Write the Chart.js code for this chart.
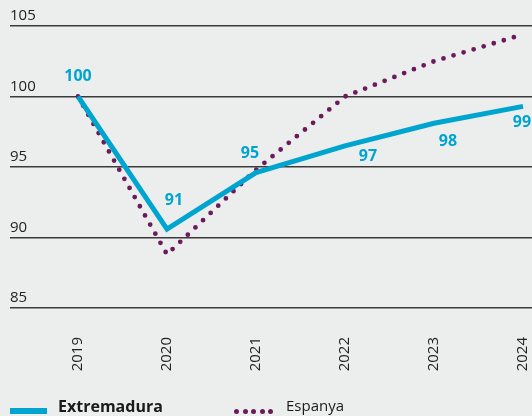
<!DOCTYPE html>
<html>
<head>
<meta charset="utf-8">
<script src="https://cdn.jsdelivr.net/npm/chart.js@4/dist/chart.umd.min.js"></script>
<style>
  body { margin: 0; background: #eceeed; }
  #wrap { position: relative; width: 532px; height: 416px; overflow: hidden; background: #eceeed; font-family: "Open Sans", sans-serif; }
  #chart { position: absolute; left: 0; top: 0; }
  .leg { position: absolute; top: 395px; font-size: 15px; color: #1a1a1a; white-space: nowrap; }
  .line { position: absolute; left: 10px; top: 408px; width: 37px; height: 6px; background: #00a5cf; }
  .dot { position: absolute; top: 409px; width: 5px; height: 5px; border-radius: 50%; background: #6b1a5c; }
</style>
</head>
<body>
<div id="wrap">
  <canvas id="chart" width="532" height="416"></canvas>
  <div class="line"></div>
  <div class="leg" style="left:58px;font-weight:bold;font-size:16px;top:395px">Extremadura</div>
  <div class="dot" style="left:234px"></div>
  <div class="dot" style="left:242.5px"></div>
  <div class="dot" style="left:251px"></div>
  <div class="dot" style="left:259.5px"></div>
  <div class="dot" style="left:268px"></div>
  <div class="leg" style="left:286px">Espanya</div>
</div>
<script>
var years = [2019, 2020, 2021, 2022, 2023, 2024];
var extremadura = [100, 90.6, 94.6, 96.5, 98.1, 99.3];
var espanya = [100, 88.8, 94.8, 100.0, 102.5, 104.4];
var extLabels = ['100', '91', '95', '97', '98', '99'];
var yTicks = [85, 90, 95, 100, 105];

var blue = '#00a5cf';
var purple = '#6b1a5c';

// offsets of the value labels from their points
var labelOffsets = [[0, -20], [7, -29], [-6, -19], [23, 11], [14, 18], [-1, 16]];

var valueLabels = {
    id: 'valueLabels',
    afterDatasetsDraw: function (chart) {
        var ctx = chart.ctx;
        var meta = chart.getDatasetMeta(0);
        ctx.save();
        ctx.font = 'bold 16px "Open Sans", sans-serif';
        ctx.fillStyle = blue;
        ctx.textAlign = 'center';
        ctx.textBaseline = 'middle';
        meta.data.forEach(function (pt, i) {
            ctx.fillText(extLabels[i], pt.x + labelOffsets[i][0], pt.y + labelOffsets[i][1]);
        });
        ctx.restore();
    }
};

var ctx = document.getElementById('chart').getContext('2d');
var myChart = new Chart(ctx, {
    type: 'line',
    data: {
        datasets: [{
            label: 'Extremadura',
            data: years.map(function (y, i) { return { x: y, y: extremadura[i] }; }),
            borderColor: blue,
            borderWidth: 5,
            pointRadius: 0,
            tension: 0,
            borderJoinStyle: 'miter'
        }, {
            label: 'Espanya',
            data: years.map(function (y, i) { return { x: y, y: espanya[i] }; }),
            borderColor: purple,
            borderWidth: 4.8,
            borderDash: [0, 10.5],
            borderCapStyle: 'round',
            pointRadius: 0,
            tension: 0
        }]
    },
    options: {
        responsive: false,
        animation: false,
        layout: { padding: { top: 26, left: 10, right: 0, bottom: 0 } },
        plugins: { legend: { display: false }, tooltip: { enabled: false } },
        scales: {
            x: {
                type: 'linear',
                min: 2018.236,
                max: 2024.101,
                afterBuildTicks: function (s) { s.ticks = years.map(function (v) { return { value: v }; }); },
                afterFit: function (s) { s.height = 108; s.paddingLeft = 0; s.paddingRight = 0; },
                grid: { display: false },
                border: { display: false },
                ticks: {
                    autoSkip: false,
                    minRotation: 90,
                    maxRotation: 90,
                    padding: 21,
                    color: '#222',
                    font: { family: 'Open Sans', size: 15 },
                    callback: function (v) { return String(v); }
                }
            },
            y: {
                min: 85,
                max: 105,
                afterBuildTicks: function (s) { s.ticks = yTicks.map(function (v) { return { value: v }; }); },
                afterFit: function (s) { s.width = 0; s.paddingTop = 0; s.paddingBottom = 0; },
                grid: { color: '#3a3a3a', lineWidth: 1.5, drawTicks: false },
                border: { display: false },
                ticks: {
                    mirror: true,
                    padding: 0,
                    labelOffset: -10,
                    color: '#222',
                    font: { family: 'Open Sans', size: 15 }
                }
            }
        }
    },
    plugins: [valueLabels]
});
</script>
</body>
</html>
